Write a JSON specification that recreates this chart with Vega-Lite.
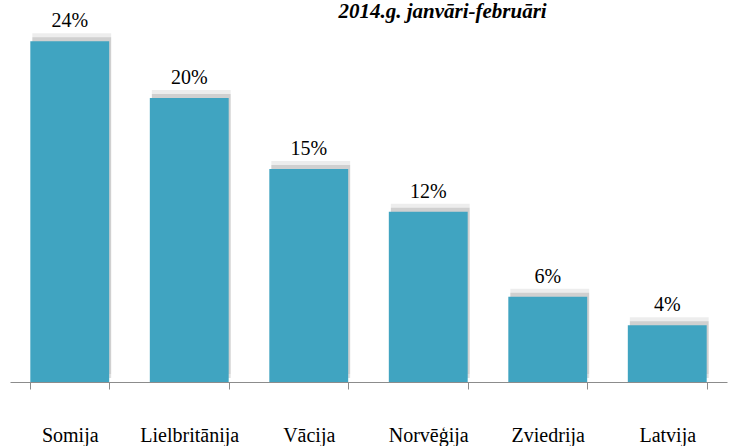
{
  "$schema": "https://vega.github.io/schema/vega-lite/v6.json",
  "width": 717,
  "height": 362,
  "autosize": {"type": "none"},
  "padding": {"left": 10, "right": 5, "top": 20, "bottom": 64},
  "background": "white",
  "title": {
    "text": "2014.g. janvāri-februāri",
    "font": "Liberation Serif",
    "fontSize": 21,
    "fontWeight": "bold",
    "fontStyle": "italic",
    "color": "#000000",
    "anchor": "middle",
    "frame": "group",
    "dx": 74,
    "dy": 33,
    "baseline": "alphabetic",
    "offset": 5
  },
  "data": {
    "values": [
      {"valsts": "Somija", "v": 0.24},
      {"valsts": "Lielbritānija", "v": 0.20},
      {"valsts": "Vācija", "v": 0.15},
      {"valsts": "Norvēģija", "v": 0.12},
      {"valsts": "Zviedrija", "v": 0.06},
      {"valsts": "Latvija", "v": 0.04}
    ]
  },
  "config": {"view": {"stroke": null}},
  "encoding": {
    "x": {
      "field": "valsts",
      "type": "nominal",
      "sort": null,
      "scale": {"paddingInner": 0.34, "paddingOuter": 0.17},
      "axis": {
        "title": null,
        "labelAngle": 0,
        "labelFont": "Liberation Serif",
        "labelFontSize": 20,
        "labelColor": "#000000",
        "labelBaseline": "alphabetic",
        "labelPadding": 52,
        "domainColor": "#8c8c8c",
        "tickColor": "#8c8c8c",
        "tickSize": 7,
        "tickBand": "extent",
        "grid": false
      }
    },
    "y": {
      "field": "v",
      "type": "quantitative",
      "scale": {"domain": [0, 0.255], "nice": false},
      "axis": null
    }
  },
  "layer": [
    {"mark": {"type": "bar", "color": "#000000", "opacity": 0.07, "xOffset": 2, "x2Offset": 7, "yOffset": -8}},
    {"mark": {"type": "bar", "color": "#000000", "opacity": 0.12, "xOffset": 2, "x2Offset": 4, "yOffset": -4}},
    {"mark": {"type": "bar", "color": "#40A4C1"}},
    {
      "mark": {"type": "text", "font": "Liberation Serif", "fontSize": 20, "color": "#000000", "baseline": "alphabetic", "dy": -14},
      "encoding": {"text": {"field": "v", "type": "quantitative", "format": ".0%"}}
    }
  ]
}
